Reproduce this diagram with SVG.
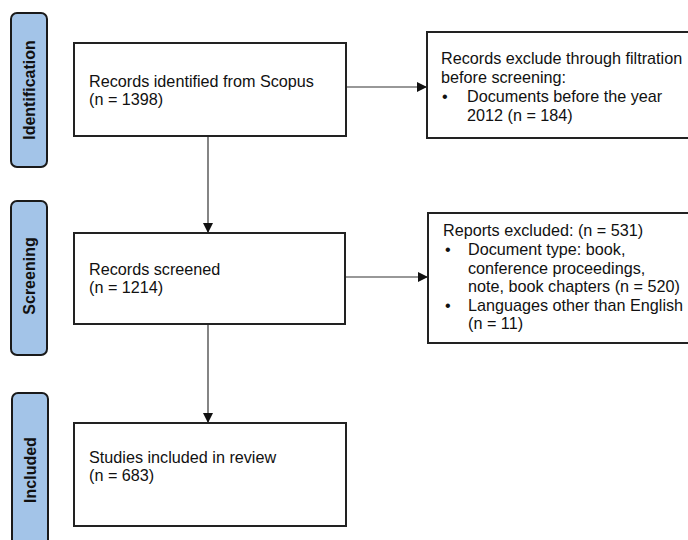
<svg xmlns="http://www.w3.org/2000/svg" width="688" height="540" viewBox="0 0 688 540">
<style>
.box{fill:#fff;stroke:#222;stroke-width:2}
.lab{fill:#a3c4e8;stroke:#1a1a1a;stroke-width:2}
.t{font-family:"Liberation Sans",Arial,sans-serif;font-size:16.2px;fill:#111}
.lt{font-family:"Liberation Sans",Arial,sans-serif;font-size:16px;font-weight:bold;fill:#111}
.c{stroke:#333;stroke-width:1.2;fill:none}
</style>
<defs>
<marker id="ah" markerWidth="10" markerHeight="10" refX="9" refY="5" orient="auto" markerUnits="userSpaceOnUse">
<path d="M0,0 L10,5 L0,10 Z" fill="#111"/>
</marker>
</defs>
<rect width="688" height="540" fill="#fff"/>
<g id="lab-identification">
<rect class="lab" x="11" y="13" width="36" height="154" rx="6"/>
<text class="lt" transform="translate(35,90) rotate(-90)" text-anchor="middle">Identification</text>
</g>
<g id="lab-screening">
<rect class="lab" x="11" y="201" width="36" height="154" rx="6"/>
<text class="lt" transform="translate(35,276) rotate(-90)" text-anchor="middle">Screening</text>
</g>
<g id="lab-included">
<rect class="lab" x="12" y="393" width="36" height="160" rx="6"/>
<text class="lt" transform="translate(36,470) rotate(-90)" text-anchor="middle">Included</text>
</g>
<g id="connectors">
<line class="c" x1="346" y1="87" x2="426" y2="87" marker-end="url(#ah)"/>
<line class="c" x1="208" y1="136" x2="208" y2="232" marker-end="url(#ah)"/>
<line class="c" x1="346" y1="277" x2="427" y2="277" marker-end="url(#ah)"/>
<line class="c" x1="208" y1="324" x2="208" y2="422" marker-end="url(#ah)"/>
</g>
<g id="n1">
<rect class="box" x="74" y="43" width="272" height="93"/>
<text class="t" x="89" y="87">Records identified from Scopus</text>
<text class="t" x="89" y="105">(n = 1398)</text>
</g>
<g id="n2">
<rect class="box" x="427" y="32" width="270" height="106"/>
<text class="t" x="441" y="64">Records exclude through filtration</text>
<text class="t" x="441" y="83">before screening:</text>
<text class="t" x="442" y="102">•</text>
<text class="t" x="467" y="102">Documents before the year</text>
<text class="t" x="467" y="121">2012 (n = 184)</text>
</g>
<g id="n3">
<rect class="box" x="74" y="233" width="271" height="91"/>
<text class="t" x="89" y="275">Records screened</text>
<text class="t" x="89" y="293">(n = 1214)</text>
</g>
<g id="n4">
<rect class="box" x="428" y="213" width="270" height="130"/>
<text class="t" x="443" y="236">Reports excluded: (n = 531)</text>
<text class="t" x="445" y="255">•</text>
<text class="t" x="468" y="255">Document type: book,</text>
<text class="t" x="468" y="274">conference proceedings,</text>
<text class="t" x="468" y="292">note, book chapters (n = 520)</text>
<text class="t" x="445" y="311">•</text>
<text class="t" x="468" y="311">Languages other than English</text>
<text class="t" x="468" y="329">(n = 11)</text>
</g>
<g id="n5">
<rect class="box" x="74" y="423" width="272" height="103"/>
<text class="t" x="89" y="463">Studies included in review</text>
<text class="t" x="89" y="481">(n = 683)</text>
</g>
</svg>
